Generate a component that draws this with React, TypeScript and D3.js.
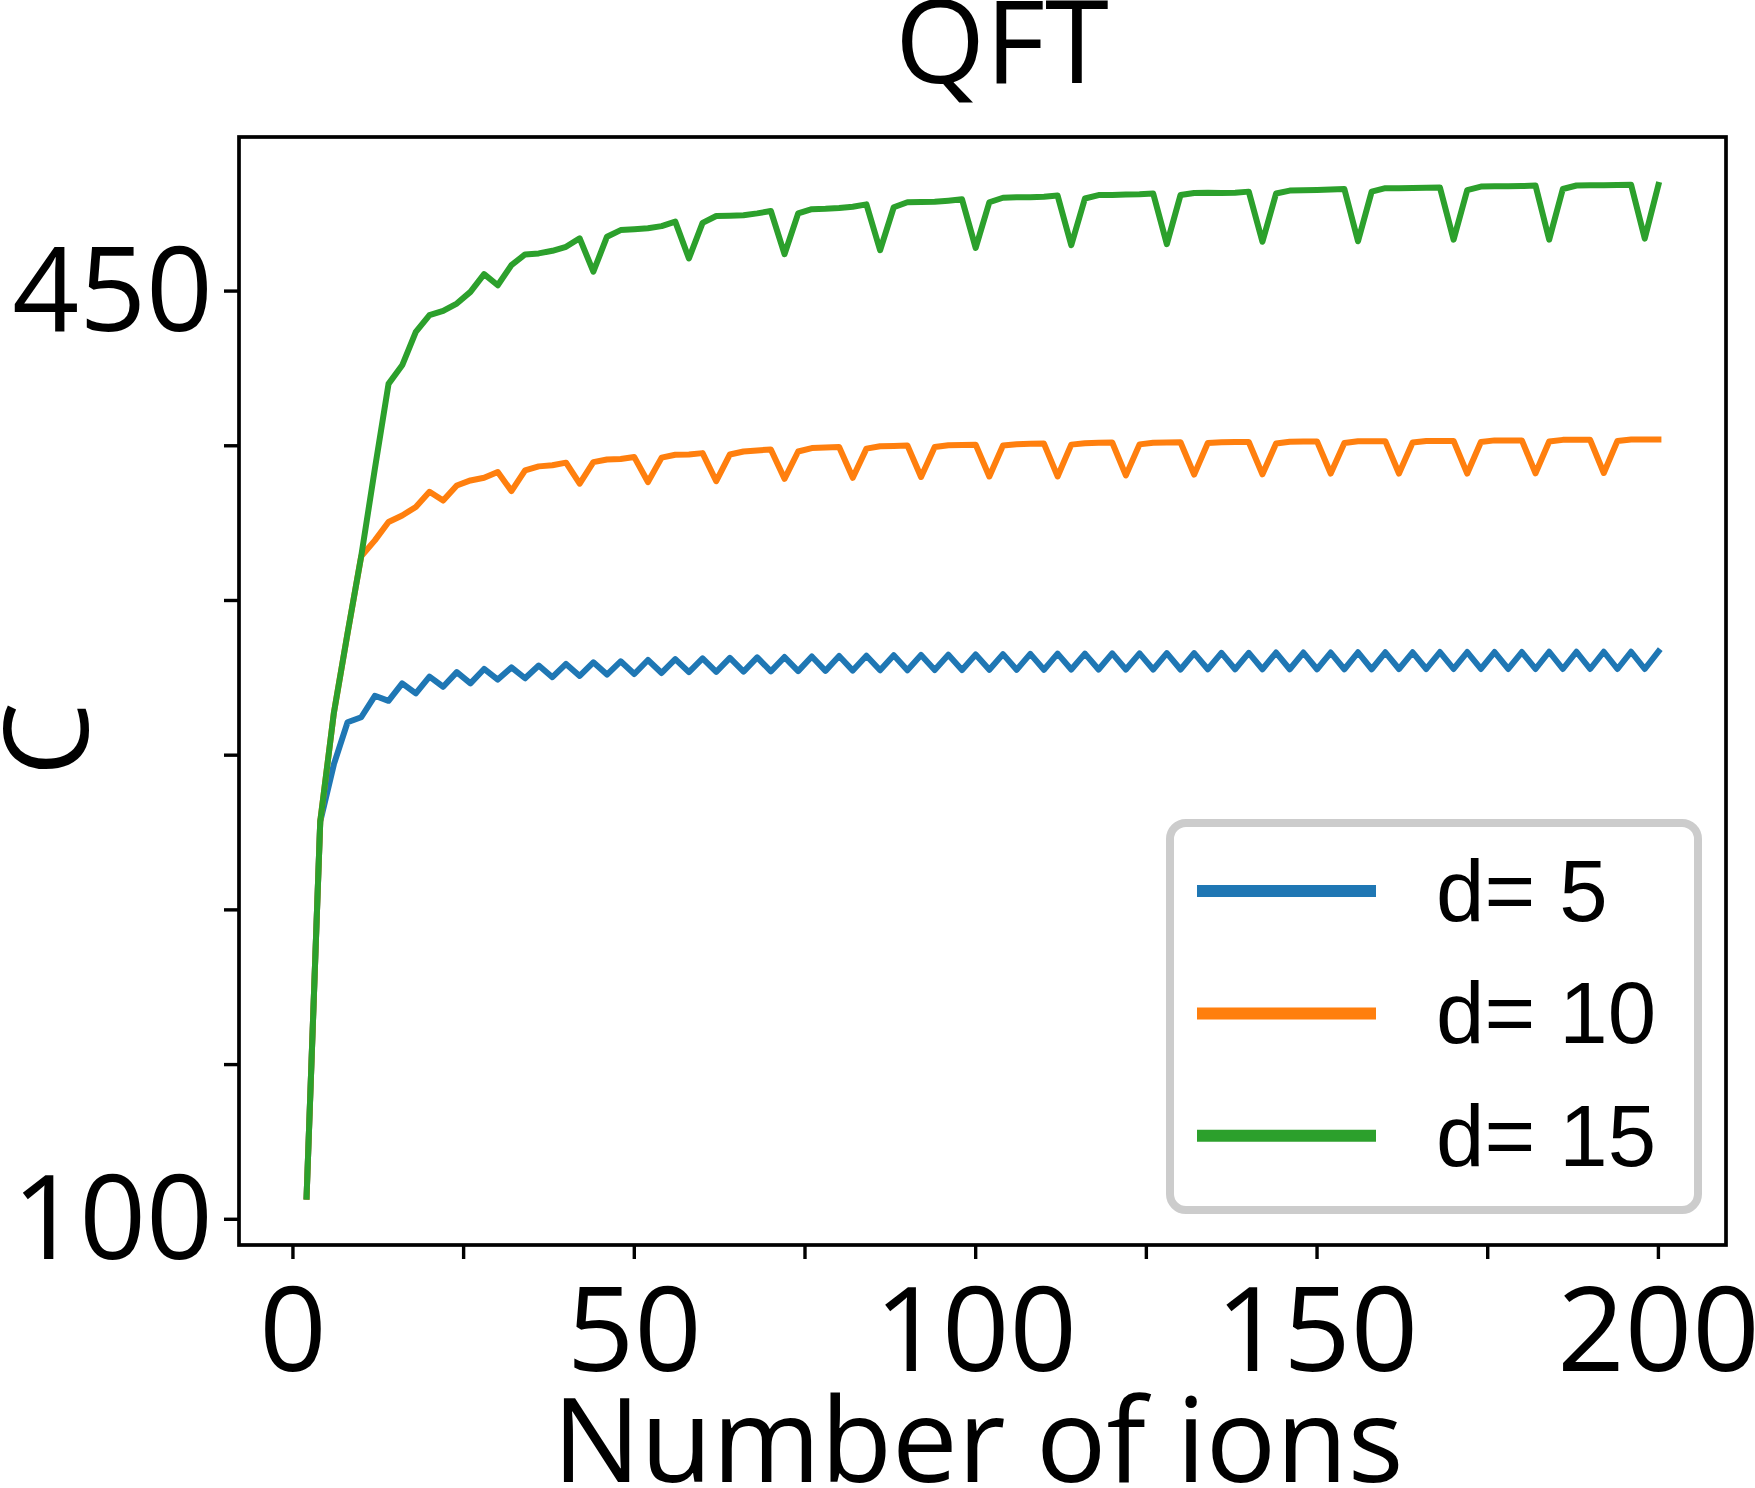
import React from 'react';
import * as d3 from 'd3';

// number of ions (x) and C for each chain length d
const ions = [
  2, 4, 6, 8, 10, 12, 14, 16, 18, 20, 22, 24, 26, 28, 30, 32, 34, 36, 38, 40,
  42, 44, 46, 48, 50, 52, 54, 56, 58, 60, 62, 64, 66, 68, 70, 72, 74, 76, 78, 80,
  82, 84, 86, 88, 90, 92, 94, 96, 98, 100, 102, 104, 106, 108, 110, 112, 114, 116, 118, 120,
  122, 124, 126, 128, 130, 132, 134, 136, 138, 140, 142, 144, 146, 148, 150, 152, 154, 156, 158, 160,
  162, 164, 166, 168, 170, 172, 174, 176, 178, 180, 182, 184, 186, 188, 190, 192, 194, 196, 198, 200,
];

const cD5 = [
  108.5, 250, 271.6, 287.4, 289.3, 297.4, 295.5, 302.1, 298.3, 304.6,
  300.8, 306.3, 302.1, 307.5, 303.5, 308.1, 304.0, 308.8, 304.4, 309.4,
  304.9, 310.0, 305.4, 310.4, 305.6, 310.9, 306.0, 311.2, 306.3, 311.5,
  306.4, 311.7, 306.5, 311.9, 306.6, 312.0, 306.7, 312.2, 306.8, 312.4,
  306.9, 312.5, 307.0, 312.7, 307.0, 312.8, 307.1, 312.9, 307.1, 313.0,
  307.2, 313.1, 307.2, 313.2, 307.2, 313.3, 307.3, 313.3, 307.3, 313.4,
  307.3, 313.4, 307.3, 313.5, 307.3, 313.5, 307.4, 313.6, 307.4, 313.6,
  307.4, 313.7, 307.4, 313.7, 307.4, 313.7, 307.4, 313.8, 307.4, 313.8,
  307.5, 313.8, 307.5, 313.9, 307.5, 313.9, 307.5, 313.9, 307.5, 313.9,
  307.5, 314.0, 307.5, 314.0, 307.5, 314.0, 307.5, 314.0, 307.5, 314.1,
];

const cD10 = [
  108.5, 250, 291, 321, 350, 356, 362.9, 365.4, 368.6, 374.3,
  371.0, 376.7, 378.6, 379.6, 381.8, 374.6, 382.4, 383.9, 384.3, 385.3,
  377.4, 385.5, 386.5, 386.7, 387.4, 378.0, 387.2, 388.3, 388.4, 388.9,
  378.3, 388.4, 389.5, 389.9, 390.3, 379.2, 389.5, 390.8, 391.0, 391.2,
  379.6, 390.6, 391.5, 391.6, 391.8, 379.9, 391.2, 391.9, 392.0, 392.1,
  380.1, 391.8, 392.2, 392.4, 392.5, 380.1, 392.1, 392.6, 392.8, 392.9,
  380.5, 392.2, 392.8, 392.9, 393.0, 380.8, 392.7, 393.0, 393.1, 393.1,
  380.9, 392.5, 393.2, 393.3, 393.3, 381.2, 392.7, 393.4, 393.4, 393.4,
  381.2, 392.9, 393.5, 393.5, 393.5, 381.2, 393.1, 393.7, 393.7, 393.7,
  381.3, 393.3, 393.9, 393.9, 393.9, 381.4, 393.5, 394.0, 394.0, 394.0,
];

const cD15 = [
  108.5, 250, 291, 321, 350, 383, 415, 422, 434.6, 440.9,
  442.5, 445.3, 449.7, 456.4, 452.2, 459.8, 463.8, 464.2, 465.2, 466.7,
  469.9, 457.3, 470.5, 473.0, 473.3, 473.7, 474.5, 476.2, 462.3, 475.7,
  478.3, 478.4, 478.6, 479.3, 480.2, 463.9, 479.3, 480.9, 481.0, 481.3,
  481.8, 482.7, 465.4, 481.6, 483.5, 483.6, 483.7, 484.1, 484.6, 466.3,
  483.5, 485.2, 485.4, 485.4, 485.6, 486.0, 467.3, 484.9, 486.2, 486.2,
  486.4, 486.5, 486.8, 467.7, 486.2, 487.0, 487.1, 487.0, 487.1, 487.5,
  468.6, 486.8, 487.9, 488.0, 488.1, 488.3, 488.5, 468.8, 487.5, 488.8,
  488.8, 488.9, 489.0, 489.1, 469.4, 488.1, 489.4, 489.5, 489.5, 489.6,
  489.8, 469.4, 488.5, 489.8, 489.9, 489.9, 490.0, 490.1, 469.8, 490.0,
];

const seriesNames = ['d= 5', 'd= 10', 'd= 15'];
const seriesColors = ['#1f77b4', '#ff7f0e', '#2ca02c'];

const xTickValues = [0, 25, 50, 75, 100, 125, 150, 175, 200];
const xTickLabels = ['0', '', '50', '', '100', '', '150', '', '200'];
const yTickValues = [100, 158.33, 216.67, 275, 333.33, 391.67, 450];
const yTickLabels = ['100', '', '', '', '', '', '450'];

const W = 1755;
const H = 1488;
const box = { left: 239, right: 1726, top: 137, bottom: 1245 };
const font = "'Open Sans', 'Noto Sans', sans-serif";

const App = () => {
  const [x0, x1] = d3.extent(ions) as [number, number];
  const pad = (x1 - x0) * 0.05;
  const x = d3.scaleLinear().domain([x0 - pad, x1 + pad]).range([box.left, box.right]);
  const y = d3.scaleLinear().domain([90.3, 508.1]).range([box.bottom, box.top]);

  const line = d3.line<number>()
    .x((_, i) => x(ions[i]))
    .y(d => y(d));

  const series = [cD5, cD10, cD15];

  return (
    <div style={{ position: 'absolute', left: 0, top: 0 }}>
      <svg width={W} height={H} style={{ display: 'block', background: '#fff' }}>
        <rect x={0} y={0} width={W} height={H} fill="#fff" />

        {series.map((s, k) => (
          <path key={k} d={line(s) || ''} fill="none" stroke={seriesColors[k]}
            strokeWidth={6} strokeLinejoin="round" strokeLinecap="square" />
        ))}

        {/* axes frame */}
        <rect x={box.left} y={box.top} width={box.right - box.left} height={box.bottom - box.top}
          fill="none" stroke="#000" strokeWidth={3.7} />

        {/* x ticks */}
        {xTickValues.map((t, i) => (
          <g key={'x' + i}>
            <line x1={x(t)} x2={x(t)} y1={box.bottom} y2={box.bottom + 14} stroke="#000" strokeWidth={3.4} />
            <text x={x(t)} y={1371} textAnchor="middle" fontFamily={font} fontSize={118}>{xTickLabels[i]}</text>
          </g>
        ))}

        {/* y ticks */}
        {yTickValues.map((t, i) => (
          <g key={'y' + i}>
            <line x1={box.left - 15} x2={box.left} y1={y(t)} y2={y(t)} stroke="#000" strokeWidth={3.4} />
            <text x={213} y={y(t) + 40} textAnchor="end" fontFamily={font} fontSize={117}>{yTickLabels[i]}</text>
          </g>
        ))}

        <text x={1002} y={83} textAnchor="middle" fontFamily={font} fontSize={116}>QFT</text>
        <text x={978} y={1482} textAnchor="middle" fontFamily={font} fontSize={117}>Number of ions</text>
        <text transform="translate(88,739) rotate(-90)" textAnchor="middle" fontFamily={font} fontSize={118}>C</text>

        {/* legend */}
        <rect x={1170} y={823} width={528} height={387} rx={16} ry={16}
          fill="#fff" stroke="#cccccc" strokeWidth={8} />
        {seriesNames.map((name, k) => {
          const cy = 891 + k * 122.4;
          return (
            <g key={name}>
              <line x1={1197} x2={1376} y1={cy} y2={cy} stroke={seriesColors[k]} strokeWidth={12} />
              <text x={1436} y={cy + 30} fontFamily="'Liberation Sans', Arial, sans-serif" fontSize={87}>{name}</text>
            </g>
          );
        })}
      </svg>
    </div>
  );
};

export default App;
